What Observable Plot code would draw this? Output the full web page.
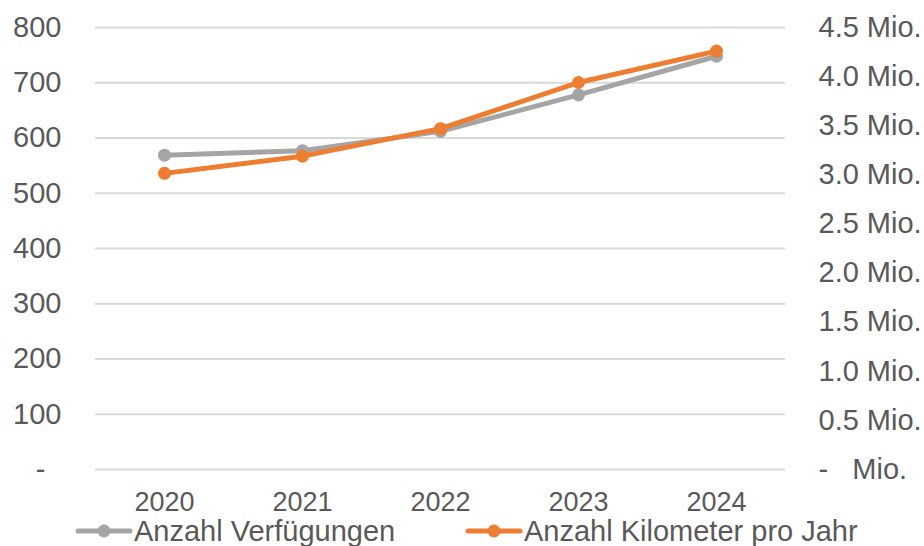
<!DOCTYPE html>
<html><head><meta charset="utf-8">
<script src="https://cdn.jsdelivr.net/npm/d3@7"></script>
<script src="https://cdn.jsdelivr.net/npm/@observablehq/plot@0.6"></script>
<style>
body{margin:0;background:#fff;font-family:"Liberation Sans",Arial,sans-serif;}
#chart{position:relative;width:924px;height:546px;overflow:hidden;}
#chart > svg{position:absolute;left:0;top:0;}
#chart > svg text{white-space:pre;}
.legend{position:absolute;top:516px;left:0;width:924px;height:30px;}
.item{position:absolute;top:0;height:30px;display:flex;align-items:center;font-size:29px;line-height:30px;color:#595959;white-space:nowrap;}
.item svg{display:block;margin-right:1px;}
</style></head><body><div id="chart"></div>
<script>
const years = [2020, 2021, 2022, 2023, 2024];
const verfuegungen = [569, 577, 612, 678, 748];
const kilometerMio = [3.015, 3.19, 3.47, 3.94, 4.26];
const leftTicks = [0, 100, 200, 300, 400, 500, 600, 700, 800];
const rightTicks = [0, 0.5, 1.0, 1.5, 2.0, 2.5, 3.0, 3.5, 4.0, 4.5];
const seriesNames = ["Anzahl Verfügungen", "Anzahl Kilometer pro Jahr"];
const colors = ["#a5a5a5", "#ed7d31"];
const legendX = [75, 465];

const ratio = 800 / 4.5;
const dataV = years.map((y, i) => ({year: String(y), value: verfuegungen[i]}));
const dataK = years.map((y, i) => ({year: String(y), value: kilometerMio[i] * ratio}));
const fmtMio = v => v === 0 ? "-   Mio." : v.toFixed(1) + " Mio.";

const plot = Plot.plot({
  width: 924, height: 546,
  marginTop: 27, marginBottom: 77, marginLeft: 95, marginRight: 139,
  style: {fontFamily: '"Liberation Sans", Arial, sans-serif', fontSize: "29px", color: "#595959", background: "#fff"},
  x: {type: "point", domain: years.map(String), padding: 0.5, label: null},
  y: {domain: [0, 800], label: null},
  marks: [
    Plot.gridY(leftTicks, {stroke: "#d9d9d9", strokeWidth: 2, strokeOpacity: 1}),
    Plot.axisY(leftTicks, {anchor: "left", tickSize: 0, tickPadding: 34, fontSize: 29, tickFormat: d => d === 0 ? "-  " : String(d), label: null}),
    Plot.axisY(rightTicks.map(v => v * ratio), {anchor: "right", tickSize: 0, tickPadding: 33, fontSize: 29, tickFormat: d => fmtMio(Math.round(d / ratio * 10) / 10), label: null}),
    Plot.axisX({tickSize: 0, tickPadding: 22, fontSize: 27, label: null}),
    Plot.line(dataV, {x: "year", y: "value", stroke: colors[0], strokeWidth: 5}),
    Plot.dot(dataV, {x: "year", y: "value", r: 6.5, fill: colors[0]}),
    Plot.line(dataK, {x: "year", y: "value", stroke: colors[1], strokeWidth: 5}),
    Plot.dot(dataK, {x: "year", y: "value", r: 6.5, fill: colors[1]})
  ]
});
const chart = document.getElementById("chart");
chart.appendChild(plot);

const legend = document.createElement("div");
legend.className = "legend";
seriesNames.forEach((name, i) => {
  const item = document.createElement("div");
  item.className = "item";
  item.style.left = legendX[i] + "px";
  item.innerHTML = `<svg width="58" height="16"><line x1="3" y1="8" x2="55" y2="8" stroke="${colors[i]}" stroke-width="5" stroke-linecap="round"/><circle cx="29" cy="8" r="6.5" fill="${colors[i]}"/></svg><span>${name}</span>`;
  legend.appendChild(item);
});
chart.appendChild(legend);
</script></body></html>
